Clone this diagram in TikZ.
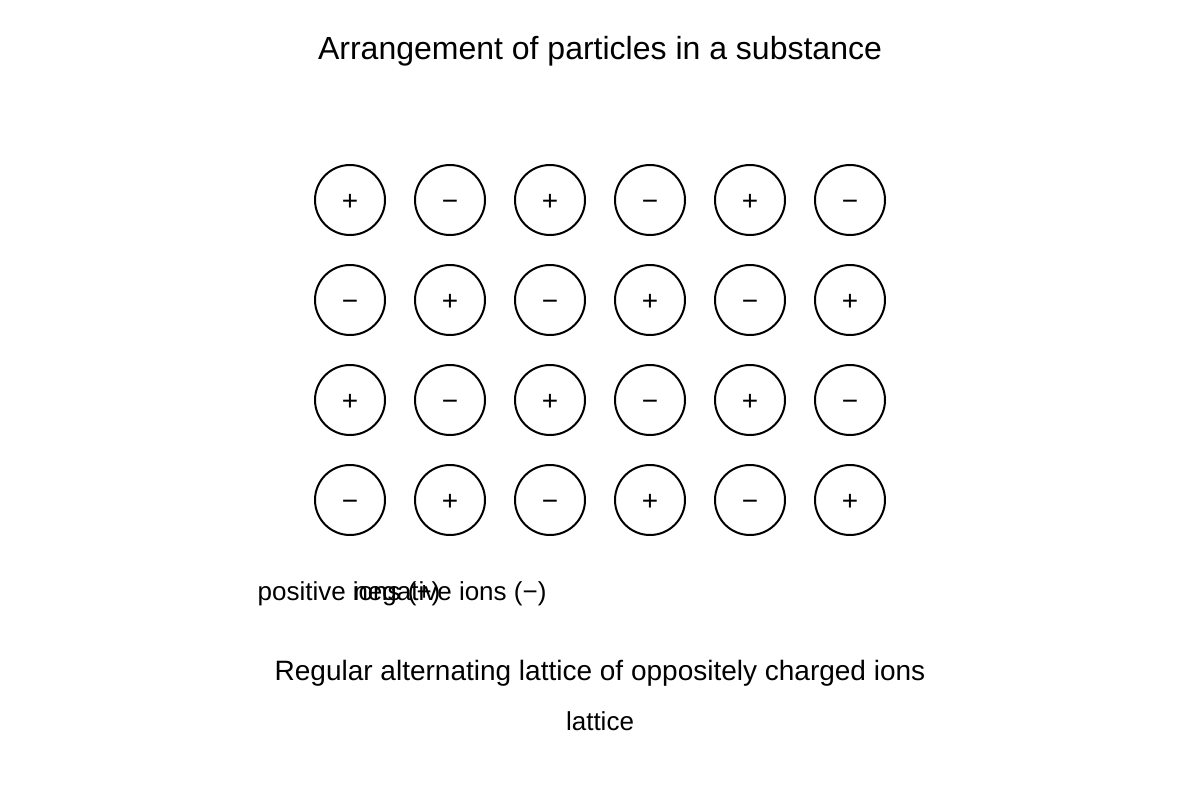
\documentclass[tikz,border=0pt]{standalone}
\usepackage{fontspec}
\setmainfont{Liberation Sans}
\begin{document}
\begin{tikzpicture}[x=1pt,y=-1pt,
  ion/.style={draw=black,line width=2pt,circle,minimum size=70pt,inner sep=0pt},
  sgn/.style={font=\fontsize{28}{32}\selectfont,inner sep=0pt},
  lbl/.style={font=\fontsize{26}{30}\selectfont,inner sep=0pt},
  captxt/.style={font=\fontsize{28}{32}\selectfont,inner sep=0pt},
  ttl/.style={font=\fontsize{32}{38}\selectfont,inner sep=0pt}]
\useasboundingbox (0,0) rectangle (1200,800);
\node[ttl] (title) at (600,51) {Arrangement of particles in a substance};
\foreach \r in {0,1,2,3}{
  \foreach \c in {0,...,5}{
    \pgfmathtruncatemacro{\s}{mod(\r+\c,2)}
    \node[ion] (i\r\c) at ({350+100*\c},{200+100*\r}) {};
    \ifnum\s=0
      \node[sgn,anchor=base] (s\r\c) at ([yshift=-10pt]i\r\c.center) {+};
    \else
      \node[sgn,anchor=base] (s\r\c) at ([yshift=-10pt]i\r\c.center) {−};
    \fi
  }
}
\node[lbl] (pos) at (349,594) {positive ions (+)};
\node[lbl] (neg) at (450,594) {negative ions (−)};
\node[captxt] (desc) at (600,673) {Regular alternating lattice of oppositely charged ions};
\node[lbl] (lat) at (600,721) {lattice};
\end{tikzpicture}
\end{document}
